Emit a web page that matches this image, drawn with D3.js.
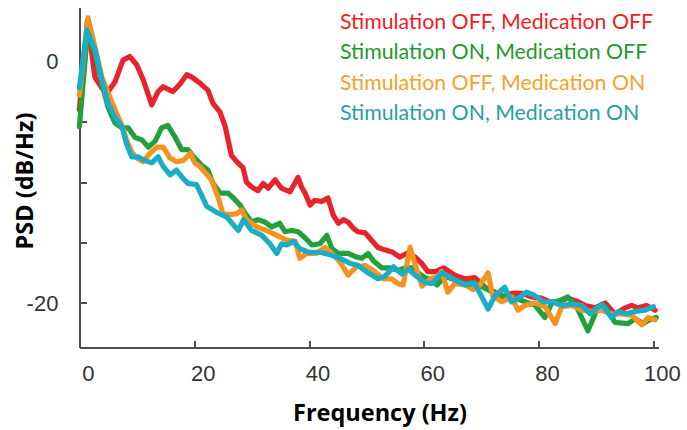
<!DOCTYPE html>
<html>
<head>
<meta charset="utf-8">
<script src="https://cdn.jsdelivr.net/npm/d3@7"></script>
<style>
  html, body { margin: 0; padding: 0; background: #fff; }
  svg { display: block; }
</style>
</head>
<body>
<svg id="chart" width="687" height="430"></svg>
<script>
// Power spectral density (dB/Hz) per condition, sampled along frequency (Hz)
const seriesNames = [
  "Stimulation OFF, Medication OFF",
  "Stimulation ON, Medication OFF",
  "Stimulation OFF, Medication ON",
  "Stimulation ON, Medication ON"
];

const freqOffOff = [0, 1.4, 2.7, 3.9, 5.0, 6.2, 7.6, 8.8, 10.0, 11.1, 12.6, 13.7, 14.6, 16.3, 17.5, 18.7, 19.6, 21.0, 22.4, 23.3, 24.5, 25.4, 25.9, 26.5, 27.6, 28.5, 29.1, 30.0, 31.1, 32.0, 32.9, 34.1, 35.2, 36.7, 38.1, 38.7, 39.3, 40.2, 41.0, 42.2, 43.3, 44.2, 45.1, 46.0, 46.8, 47.7, 48.5, 49.8, 50.9, 52.0, 53.2, 54.6, 55.8, 57.0, 58.5, 59.6, 60.7, 62.0, 63.5, 65.4, 67.2, 68.9, 70.7, 72.4, 73.6, 75.3, 77.1, 78.8, 80.5, 82.0, 83.4, 85.1, 86.9, 88.1, 89.8, 91.6, 93.3, 95.1, 96.2, 97.3, 98.8, 100.3];
const psdOffOff = [-4.0, 3.4, -1.3, -2.2, -2.5, -1.7, 0.1, 0.4, -0.3, -1.5, -3.6, -2.5, -2.1, -2.5, -1.9, -1.1, -1.3, -1.8, -2.4, -3.5, -4.2, -5.4, -6.5, -7.8, -8.4, -8.8, -10.0, -10.4, -10.7, -10.1, -10.5, -9.8, -10.5, -10.8, -9.6, -10.4, -10.9, -11.9, -11.5, -11.6, -11.3, -12.7, -13.4, -13.1, -13.3, -13.8, -14.1, -14.2, -14.8, -15.4, -15.6, -15.8, -16.2, -15.9, -16.2, -16.7, -17.4, -17.4, -17.1, -17.7, -18.0, -17.9, -18.7, -19.1, -19.6, -19.2, -19.2, -19.5, -19.6, -19.9, -19.9, -19.6, -19.9, -20.2, -20.4, -20.0, -20.9, -20.4, -20.2, -20.4, -20.2, -20.6];

const freqOnOff = [0, 1.4, 2.7, 3.9, 5.0, 6.2, 7.4, 8.5, 9.7, 10.9, 12.0, 13.2, 14.3, 15.4, 16.7, 17.8, 18.9, 20.1, 21.3, 22.4, 23.3, 24.5, 25.9, 26.8, 28.0, 28.9, 30.0, 31.1, 32.3, 33.5, 34.9, 35.8, 37.0, 38.1, 39.3, 40.5, 41.9, 43.1, 44.0, 45.1, 46.8, 48.3, 49.2, 50.3, 51.2, 52.7, 54.1, 55.5, 56.7, 57.9, 59.0, 60.2, 61.6, 62.3, 63.7, 65.5, 67.2, 68.9, 70.7, 72.4, 74.1, 75.9, 77.6, 79.4, 81.1, 82.3, 83.7, 85.1, 86.6, 88.6, 90.3, 91.6, 93.3, 95.6, 96.8, 98.2, 99.7, 100.5];
const psdOnOff = [-5.4, 2.3, 0.7, -1.8, -3.8, -5.1, -5.5, -5.5, -6.3, -6.5, -7.1, -6.6, -5.5, -5.3, -6.3, -7.3, -7.3, -8.0, -8.6, -9.0, -10.1, -10.9, -10.9, -11.3, -11.9, -12.6, -13.3, -13.1, -13.3, -13.7, -13.4, -14.1, -14.0, -14.1, -14.6, -15.2, -15.1, -14.4, -15.5, -15.9, -15.9, -16.2, -16.3, -15.9, -16.5, -17.1, -17.1, -17.3, -17.1, -17.1, -17.5, -17.9, -18.1, -18.5, -17.8, -18.1, -18.4, -18.3, -18.8, -19.2, -19.4, -19.6, -19.9, -20.2, -21.2, -20.0, -19.8, -19.5, -20.3, -22.3, -20.4, -20.3, -21.6, -21.7, -21.3, -21.7, -21.3, -21.2];

const freqOffOn = [0, 1.5, 2.7, 3.9, 5.0, 6.2, 7.4, 8.2, 9.1, 10.0, 11.1, 12.3, 13.5, 14.6, 15.8, 16.9, 18.1, 19.3, 20.1, 21.0, 23.0, 24.2, 25.0, 26.2, 27.4, 28.3, 29.1, 30.9, 32.6, 34.4, 36.1, 37.6, 38.4, 39.6, 41.3, 42.8, 44.0, 45.4, 46.8, 48.3, 49.8, 51.2, 52.9, 54.4, 55.5, 56.4, 57.6, 58.8, 59.7, 61.1, 62.5, 63.1, 64.2, 65.4, 67.2, 68.6, 69.8, 71.2, 72.0, 73.6, 75.3, 76.4, 77.6, 79.4, 81.1, 82.9, 84.0, 85.8, 87.5, 89.2, 91.0, 92.7, 94.5, 96.2, 98.0, 99.1, 100.3];
const psdOffOn = [-2.8, 3.6, 1.2, -1.3, -2.6, -4.0, -5.3, -6.5, -7.5, -8.0, -8.3, -7.6, -7.1, -7.1, -8.0, -8.3, -8.2, -7.6, -8.4, -8.7, -9.8, -11.3, -12.6, -12.7, -12.6, -12.3, -13.1, -13.7, -14.0, -14.4, -14.8, -14.9, -16.3, -15.9, -15.9, -15.4, -15.9, -16.6, -17.7, -17.0, -16.9, -17.3, -18.0, -18.0, -18.4, -18.5, -15.4, -17.3, -18.6, -18.0, -17.8, -17.4, -19.1, -18.4, -18.5, -18.9, -18.5, -17.5, -19.4, -19.9, -19.5, -20.6, -20.2, -20.0, -20.3, -21.7, -20.3, -20.2, -20.6, -20.7, -20.6, -20.9, -20.9, -21.0, -21.8, -21.2, -21.4];

const freqOnOn = [0, 1.3, 2.7, 3.9, 5.0, 6.2, 7.4, 8.2, 9.1, 10.2, 11.4, 12.6, 13.7, 14.6, 15.8, 16.9, 18.1, 18.9, 20.4, 22.2, 23.9, 25.7, 27.7, 28.6, 30.0, 31.8, 33.2, 34.4, 35.2, 36.1, 37.3, 38.4, 39.9, 41.9, 43.7, 45.4, 47.1, 48.6, 50.3, 52.0, 53.2, 54.7, 56.2, 57.3, 58.5, 60.2, 61.4, 63.2, 65.1, 67.2, 68.9, 71.2, 72.4, 74.1, 75.3, 76.8, 77.9, 79.4, 80.8, 82.3, 84.0, 85.8, 87.5, 89.0, 91.0, 92.7, 93.9, 95.3, 96.8, 98.5, 100.0];
const psdOnOn = [-2.2, 2.6, 1.0, -1.5, -3.5, -4.6, -5.4, -6.8, -7.9, -7.9, -8.2, -8.4, -7.9, -8.7, -9.4, -9.0, -9.7, -10.1, -10.2, -12.0, -12.5, -12.9, -14.0, -13.1, -14.0, -14.4, -15.1, -15.9, -15.1, -15.2, -14.9, -15.5, -15.8, -15.8, -16.0, -16.3, -16.7, -16.9, -17.5, -18.0, -17.8, -17.0, -17.6, -17.2, -17.7, -18.3, -18.4, -17.5, -18.0, -18.5, -18.4, -20.5, -19.4, -18.7, -19.9, -19.5, -19.1, -19.4, -19.9, -19.9, -20.2, -20.1, -20.2, -20.9, -20.1, -21.2, -20.7, -20.9, -20.7, -20.6, -20.3];

const lineColors = ["#e8232b", "#21a03c", "#f6931f", "#1cadc6"];
const legendColors = ["#ee1d26", "#1e9a2c", "#f7a12c", "#26a0a2"];

const yTickValues = [0, -5, -10, -15, -20];
const yTickLabels = ["0", "", "", "", "-20"];
const xTickValues = [0, 20, 40, 60, 80, 100];
const xTickLabels = ["0", "20", "40", "60", "80", "100"];

const series = [
  { name: seriesNames[0], freq: freqOffOff, psd: psdOffOff, line: lineColors[0], text: legendColors[0] },
  { name: seriesNames[1], freq: freqOnOff, psd: psdOnOff, line: lineColors[1], text: legendColors[1] },
  { name: seriesNames[2], freq: freqOffOn, psd: psdOffOn, line: lineColors[2], text: legendColors[2] },
  { name: seriesNames[3], freq: freqOnOn, psd: psdOnOn, line: lineColors[3], text: legendColors[3] }
];

const svg = d3.select("#chart");

const x = d3.scaleLinear().domain([0, 100.8]).range([79.4, 658]);
const y = d3.scaleLinear().domain([-23.7, 4.5]).range([347.7, 7]);

const axisColor = "#4d4d4d";
const tickFont = "'Liberation Sans', Arial, Helvetica, sans-serif";

// X axis: inward ticks, labels set slightly right of each tick
const gx = svg.append("g")
  .attr("transform", `translate(0,${y.range()[0]})`)
  .call(d3.axisBottom(x)
    .tickValues(xTickValues)
    .tickFormat((d, i) => xTickLabels[i])
    .tickSize(-7)
    .tickSizeOuter(0)
    .tickPadding(18));
gx.select(".domain").attr("stroke", axisColor).attr("stroke-width", 2.2);
gx.selectAll(".tick line").attr("stroke", axisColor).attr("stroke-width", 2)
  .attr("display", d => d === 0 ? "none" : null);
gx.selectAll(".tick text")
  .attr("dx", 8.5)
  .attr("fill", "#333")
  .style("font-family", tickFont)
  .style("font-size", "22px");

// Y axis: inward ticks, only 0 and -20 labelled
const gy = svg.append("g")
  .attr("transform", `translate(${x.range()[0]},0)`)
  .call(d3.axisLeft(y)
    .tickValues(yTickValues)
    .tickFormat((d, i) => yTickLabels[i])
    .tickSize(-8)
    .tickSizeOuter(0)
    .tickPadding(21));
gy.select(".domain").attr("stroke", axisColor).attr("stroke-width", 2.2);
gy.selectAll(".tick line").attr("stroke", axisColor).attr("stroke-width", 2);
gy.selectAll(".tick text")
  .attr("fill", "#333")
  .style("font-family", tickFont)
  .style("font-size", "22px");

svg.selectAll(".domain, .tick line").attr("shape-rendering", "crispEdges");

// Spectra
const line = d3.line()
  .x(d => x(d[0]))
  .y(d => y(d[1]));

svg.append("g")
  .selectAll("path")
  .data(series)
  .join("path")
  .attr("d", s => line(d3.zip(s.freq, s.psd)))
  .attr("fill", "none")
  .attr("stroke", s => s.line)
  .attr("stroke-width", 5.2)
  .attr("stroke-linejoin", "round")
  .attr("stroke-linecap", "round");

// Legend as coloured text
const labelFont = "Lato, 'Open Sans', 'DejaVu Sans', sans-serif";
svg.append("g")
  .selectAll("text")
  .data(series)
  .join("text")
  .attr("x", 340)
  .attr("y", (d, i) => 29 + i * 30.3)
  .attr("fill", d => d.text)
  .style("font-family", labelFont)
  .style("font-size", "21.3px")
  .text(d => d.name);

// Axis titles
const titleFont = "'Open Sans', Lato, 'DejaVu Sans', sans-serif";
svg.append("text")
  .attr("x", 380)
  .attr("y", 421)
  .attr("text-anchor", "middle")
  .attr("fill", "#000")
  .style("font-family", titleFont)
  .style("font-weight", "bold")
  .style("font-size", "23.5px")
  .text("Frequency (Hz)");

svg.append("text")
  .attr("transform", "translate(33,181) rotate(-90)")
  .attr("text-anchor", "middle")
  .attr("fill", "#000")
  .style("font-family", titleFont)
  .style("font-weight", "bold")
  .style("font-size", "23.5px")
  .text("PSD (dB/Hz)");
</script>
</body>
</html>
